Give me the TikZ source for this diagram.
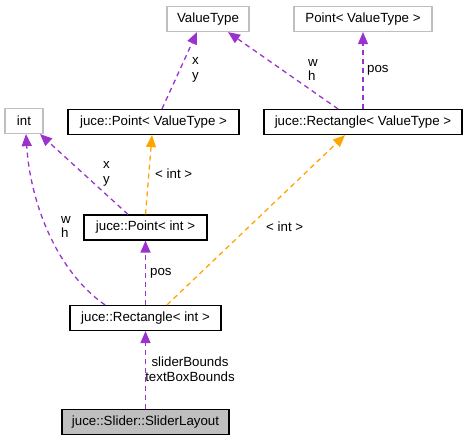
\documentclass[tikz,border=0pt]{standalone}
\usepackage{fontspec}
\setmainfont{Liberation Sans}
\usepackage{tikz}
\usetikzlibrary{positioning, arrows.meta, calc}
\definecolor{memb}{HTML}{9A32CD}
\definecolor{tmpl}{HTML}{FFA500}
\definecolor{extb}{HTML}{BFBFBF}

\begin{document}
\begin{tikzpicture}[
        x=1pt, y=-1pt,
        font=\fontsize{13.3}{14.5}\selectfont,
        box/.style={draw=black, line width=1.2pt, minimum height=25pt, inner sep=0pt},
        extbox/.style={box, draw=extb},
        curbox/.style={box, fill=extb},
        use/.style={-{Triangle[length=12pt, width=10pt]}, memb, line width=1.3pt, dash pattern=on 5pt off 4pt},
        inst/.style={use, tmpl},
        lbl/.style={align=left, inner sep=0pt},
    ]
        \useasboundingbox (0,0) rectangle (468,441);
        \node[extbox, minimum width=82pt]  (vt)   at (208,19)    {ValueType};
        \node[extbox, minimum width=138pt] (pv)   at (363,19)    {Point< ValueType >};
        \node[extbox, minimum width=38pt]  (int)  at (24,121)    {int};
        \node[box, minimum width=171pt]    (pvt)  at (153.5,122) {juce::Point< ValueType >};
        \node[box, minimum width=198pt]    (rvt)  at (363,122)   {juce::Rectangle< ValueType >};
        \node[box, minimum width=123pt]    (pint) at (145.5,227.5) {juce::Point< int >};
        \node[box, minimum width=151pt]    (rint) at (145.5,318) {juce::Rectangle< int >};
        \node[curbox, minimum width=167pt] (sl)   at (145.5,422) {juce::Slider::SliderLayout};
        % member links
        \draw[use] ([xshift=8.5pt]pvt.north) -- ([xshift=-11pt]vt.south);
        \draw[use] ([xshift=-25pt]rvt.north) -- ([xshift=20pt]vt.south);
        \draw[use] (rvt.north) -- (pv.south);
        \draw[use] ([xshift=-17.5pt]pint.north) -- ([xshift=16pt]int.south);
        \draw[use] ([xshift=-40.5pt]rint.north) .. controls (55,270) and (30,200) .. ([xshift=2pt]int.south);
        \draw[use] (rint.north) -- (pint.south);
        \draw[use] (sl.north) -- (rint.south);
        % template instances
        \draw[inst] (pint.north) -- ([xshift=-1.5pt]pvt.south);
        \draw[inst] ([xshift=21.5pt]rint.north) -- ([xshift=-18pt]rvt.south);
        % labels
        \node[lbl, anchor=west] (l1) at (192,70)  {x\\y};
        \node[lbl, anchor=west] (l2) at (308,70)  {w\\h};
        \node[lbl, anchor=west] (l3) at (367,70)  {pos};
        \node[lbl, anchor=west] (l4) at (103,174) {x\\y};
        \node[lbl, anchor=west] (l5) at (155,174) {< int >};
        \node[lbl, anchor=west] (l6) at (61,227)  {w\\h};
        \node[lbl, anchor=west] (l7) at (266,227) {< int >};
        \node[lbl, anchor=west] (l8) at (150,273) {pos};
        \node[lbl, align=center] (l9) at (190,369) {sliderBounds\\textBoxBounds};
    \end{tikzpicture}
\end{document}
